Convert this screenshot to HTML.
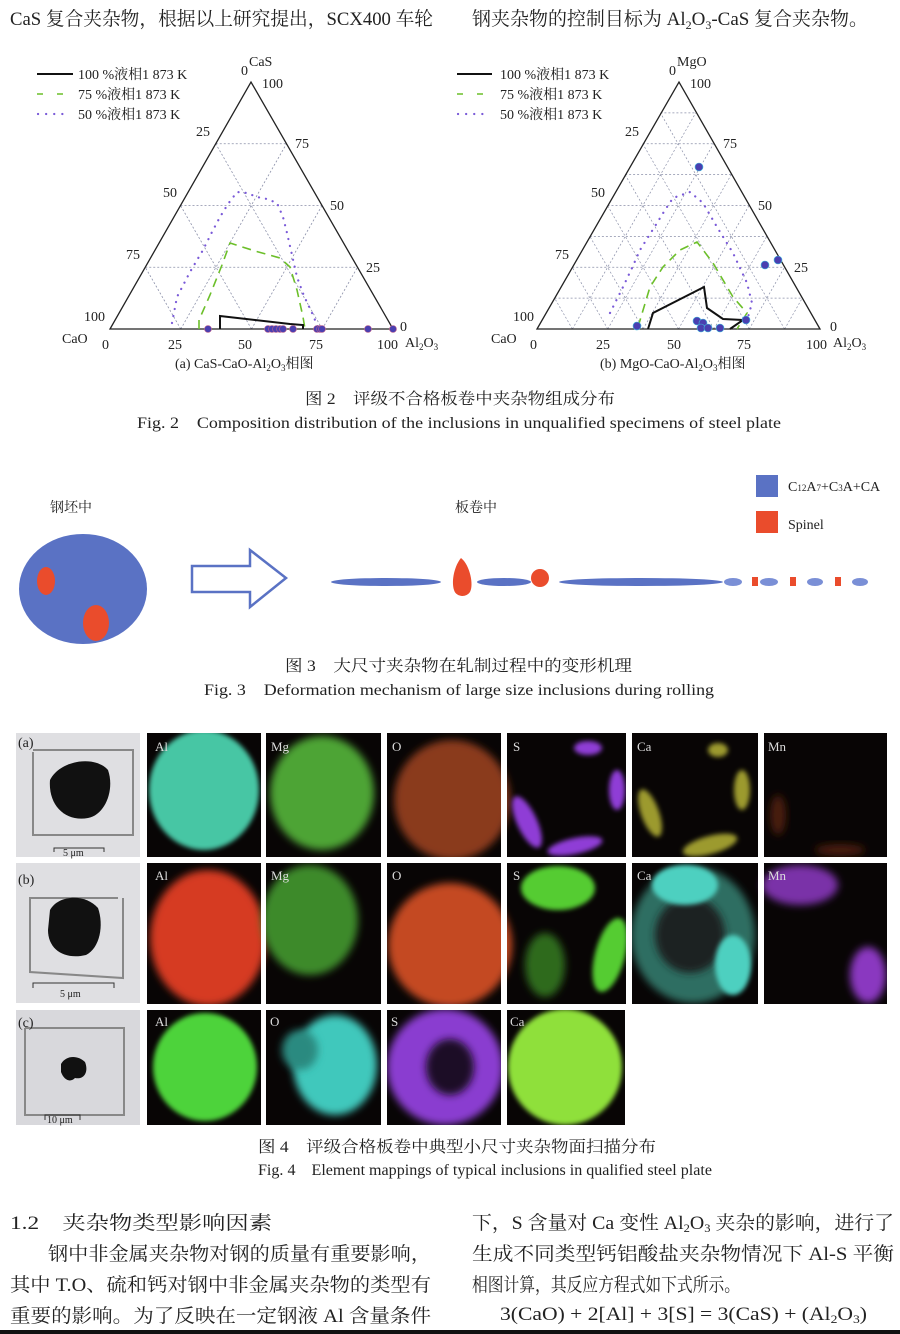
<!DOCTYPE html>
<html><head><meta charset="utf-8"><style>
html,body{margin:0;padding:0;background:#fff;}
svg{display:block;}
text{font-family:"Liberation Serif","Noto Serif CJK SC",serif;fill:#222;}
.cn{font-family:"Liberation Serif","Noto Serif CJK SC","Noto Sans CJK SC",serif;}
</style></head><body>
<svg width="900" height="1334" viewBox="0 0 900 1334" xmlns="http://www.w3.org/2000/svg">
<defs>
<filter id="bl" x="-30%" y="-30%" width="160%" height="160%"><feGaussianBlur stdDeviation="4"/></filter>
<filter id="bl2" x="-30%" y="-30%" width="160%" height="160%"><feGaussianBlur stdDeviation="2.5"/></filter>
<clipPath id="maps">
<rect x="147" y="733" width="114" height="124"/><rect x="266" y="733" width="115" height="124"/><rect x="387" y="733" width="114" height="124"/><rect x="507" y="733" width="119" height="124"/><rect x="632" y="733" width="126" height="124"/><rect x="764" y="733" width="123" height="124"/>
<rect x="147" y="863" width="114" height="141"/><rect x="266" y="863" width="115" height="141"/><rect x="387" y="863" width="114" height="141"/><rect x="507" y="863" width="119" height="141"/><rect x="632" y="863" width="126" height="141"/><rect x="764" y="863" width="123" height="141"/>
<rect x="147" y="1010" width="114" height="115"/><rect x="266" y="1010" width="115" height="115"/><rect x="387" y="1010" width="114" height="115"/><rect x="507" y="1010" width="118" height="115"/>
</clipPath>
</defs>
<rect width="900" height="1334" fill="#fff"/>

<text x="10" y="25" font-size="19" textLength="423" lengthAdjust="spacingAndGlyphs" class="cn">CaS 复合夹杂物，根据以上研究提出，SCX400 车轮</text>
<text x="472" y="25" font-size="19" textLength="396" lengthAdjust="spacingAndGlyphs" class="cn">钢夹杂物的控制目标为 Al<tspan font-size="12" dy="4">2</tspan><tspan dy="-4">O</tspan><tspan font-size="12" dy="4">3</tspan><tspan dy="-4">-CaS 复合夹杂物。</tspan></text>

<!-- ===== Triangle A ===== -->
<g stroke="#8a8fa8" stroke-width="0.8" stroke-dasharray="2,2" fill="none">
<line x1="145.25" y1="267.25" x2="357.5" y2="267.25"/>
<line x1="180.5" y1="205.5" x2="322" y2="205.5"/>
<line x1="215.75" y1="143.75" x2="286.5" y2="143.75"/>
<line x1="180.75" y1="329" x2="286.5" y2="143.75"/>
<line x1="251.5" y1="329" x2="322" y2="205.5"/>
<line x1="322.25" y1="329" x2="357.5" y2="267.25"/>
<line x1="180.75" y1="329" x2="145.25" y2="267.25"/>
<line x1="251.5" y1="329" x2="180.5" y2="205.5"/>
<line x1="322.25" y1="329" x2="215.75" y2="143.75"/>
</g>
<polygon points="110,329 393,329 251,82" fill="none" stroke="#222" stroke-width="1.3"/>
<polyline points="172,323 177,297 190,272 203,250 212,232 220,217 228,204 237,192 247,193 257,197 267,199 277,203 283,217 287,233 292,255 297,277 304,296 312,313 318,327" fill="none" stroke="#7a5ad8" stroke-width="2.2" stroke-dasharray="0.1,7" stroke-linecap="round"/>
<polyline points="199,329 199,320 210,295 222,265 230,243 255,251 280,258 290,267 297,290 303,317 305,329" fill="none" stroke="#6cbf2a" stroke-width="1.6" stroke-dasharray="9,6"/>
<polyline points="220,329 220,316 290,324 303,325 303,329" fill="none" stroke="#111" stroke-width="2"/>
<g fill="#4a3fb0" stroke="#c0608a" stroke-width="0.6">
<circle cx="208" cy="329" r="3.5"/><circle cx="268" cy="329" r="3.5"/><circle cx="272" cy="329" r="3.5"/><circle cx="276" cy="329" r="3.5"/><circle cx="280" cy="329" r="3.5"/><circle cx="283" cy="329" r="3.5"/><circle cx="293" cy="329" r="3.5"/><circle cx="317" cy="329" r="3.5"/><circle cx="320" cy="329" r="3.5"/><circle cx="322" cy="329" r="3.5"/><circle cx="368" cy="329" r="3.5"/><circle cx="393" cy="329" r="3.5"/>
</g>
<g font-size="14">
<text x="241" y="75">0</text><text x="249" y="66">CaS</text><text x="262" y="88">100</text>
<text x="196" y="136">25</text><text x="163" y="197">50</text><text x="126" y="259">75</text><text x="84" y="321">100</text>
<text x="295" y="148">75</text><text x="330" y="210">50</text><text x="366" y="272">25</text><text x="400" y="331">0</text>
<text x="62" y="343">CaO</text><text x="102" y="349">0</text><text x="168" y="349">25</text><text x="238" y="349">50</text><text x="309" y="349">75</text><text x="377" y="349">100</text>
<text x="405" y="347">Al<tspan font-size="9" dy="3">2</tspan><tspan dy="-3">O</tspan><tspan font-size="9" dy="3">3</tspan></text>
</g>
<g font-size="14" class="cn">
<line x1="37" y1="74" x2="73" y2="74" stroke="#111" stroke-width="2"/>
<text x="78" y="79">100 %液相1 873 K</text>
<line x1="37" y1="94" x2="73" y2="94" stroke="#6cbf2a" stroke-width="1.6" stroke-dasharray="6,14"/>
<text x="78" y="99">75 %液相1 873 K</text>
<line x1="38" y1="114" x2="70" y2="114" stroke="#7a5ad8" stroke-width="2.2" stroke-dasharray="0.1,8" stroke-linecap="round"/>
<text x="78" y="119">50 %液相1 873 K</text>
<text x="175" y="368">(a) CaS-CaO-Al<tspan font-size="9" dy="3">2</tspan><tspan dy="-3">O</tspan><tspan font-size="9" dy="3">3</tspan><tspan dy="-3">相图</tspan></text>
</g>

<!-- ===== Triangle B ===== -->
<g transform="translate(427,0)" stroke="#8a8fa8" stroke-width="0.7" stroke-dasharray="2,2" fill="none">
<line x1="127.6" y1="298.1" x2="375.3" y2="298.1"/><line x1="145.25" y1="267.25" x2="357.5" y2="267.25"/><line x1="162.9" y1="236.4" x2="339.75" y2="236.4"/><line x1="180.5" y1="205.5" x2="322" y2="205.5"/><line x1="198.1" y1="174.6" x2="304.25" y2="174.6"/><line x1="215.75" y1="143.75" x2="286.5" y2="143.75"/><line x1="233.4" y1="112.9" x2="268.75" y2="112.9"/>
<line x1="145.4" y1="329" x2="268.75" y2="112.9"/><line x1="180.75" y1="329" x2="286.5" y2="143.75"/><line x1="216.1" y1="329" x2="304.25" y2="174.6"/><line x1="251.5" y1="329" x2="322" y2="205.5"/><line x1="286.9" y1="329" x2="339.75" y2="236.4"/><line x1="322.25" y1="329" x2="357.5" y2="267.25"/><line x1="357.6" y1="329" x2="375.3" y2="298.1"/>
<line x1="145.4" y1="329" x2="127.6" y2="298.1"/><line x1="180.75" y1="329" x2="145.25" y2="267.25"/><line x1="216.1" y1="329" x2="162.9" y2="236.4"/><line x1="251.5" y1="329" x2="180.5" y2="205.5"/><line x1="286.9" y1="329" x2="198.1" y2="174.6"/><line x1="322.25" y1="329" x2="215.75" y2="143.75"/><line x1="357.6" y1="329" x2="233.4" y2="112.9"/>
</g>
<polygon points="537,329 820,329 679,82" fill="none" stroke="#222" stroke-width="1.3"/>
<polyline points="610,313 623,287 632,268 640,250 657,223 665,210 673,198 690,192 703,203 717,227 733,253 747,283 752,303 748,317" fill="none" stroke="#7a5ad8" stroke-width="2.2" stroke-dasharray="0.1,7" stroke-linecap="round"/>
<polyline points="638,327 650,287 663,267 680,250 697,242 713,263 733,297 747,313 737,329" fill="none" stroke="#6cbf2a" stroke-width="1.6" stroke-dasharray="9,6"/>
<polyline points="648,329 653,313 704,287 707,308 723,319 743,320 730,329" fill="none" stroke="#111" stroke-width="2"/>
<g fill="#4a3fb0" stroke="#3fc0e0" stroke-width="0.6">
<circle cx="699" cy="167" r="4"/><circle cx="765" cy="265" r="4"/><circle cx="778" cy="260" r="4"/><circle cx="637" cy="326" r="4"/><circle cx="697" cy="321" r="4"/><circle cx="703" cy="323" r="4"/><circle cx="701" cy="328" r="4"/><circle cx="708" cy="328" r="4"/><circle cx="720" cy="328" r="4"/><circle cx="746" cy="320" r="4"/>
</g>
<g font-size="14">
<text x="669" y="75">0</text><text x="677" y="66">MgO</text><text x="690" y="88">100</text>
<text x="625" y="136">25</text><text x="591" y="197">50</text><text x="555" y="259">75</text><text x="513" y="321">100</text>
<text x="723" y="148">75</text><text x="758" y="210">50</text><text x="794" y="272">25</text><text x="830" y="331">0</text>
<text x="491" y="343">CaO</text><text x="530" y="349">0</text><text x="596" y="349">25</text><text x="667" y="349">50</text><text x="737" y="349">75</text><text x="806" y="349">100</text>
<text x="833" y="347">Al<tspan font-size="9" dy="3">2</tspan><tspan dy="-3">O</tspan><tspan font-size="9" dy="3">3</tspan></text>
</g>
<g font-size="14" class="cn">
<line x1="457" y1="74" x2="492" y2="74" stroke="#111" stroke-width="2"/>
<text x="500" y="79">100 %液相1 873 K</text>
<line x1="457" y1="94" x2="492" y2="94" stroke="#6cbf2a" stroke-width="1.6" stroke-dasharray="6,14"/>
<text x="500" y="99">75 %液相1 873 K</text>
<line x1="458" y1="114" x2="490" y2="114" stroke="#7a5ad8" stroke-width="2.2" stroke-dasharray="0.1,8" stroke-linecap="round"/>
<text x="500" y="119">50 %液相1 873 K</text>
<text x="600" y="368">(b) MgO-CaO-Al<tspan font-size="9" dy="3">2</tspan><tspan dy="-3">O</tspan><tspan font-size="9" dy="3">3</tspan><tspan dy="-3">相图</tspan></text>
</g>

<text x="305" y="404" font-size="16" textLength="310" lengthAdjust="spacingAndGlyphs" class="cn">图 2　评级不合格板卷中夹杂物组成分布</text>
<text x="137" y="428" font-size="16" textLength="644" lengthAdjust="spacingAndGlyphs">Fig. 2　Composition distribution of the inclusions in unqualified specimens of steel plate</text>

<!-- Fig3 -->
<text x="50" y="512" font-size="14" class="cn">钢坯中</text>
<text x="455" y="512" font-size="14" class="cn">板卷中</text>
<rect x="756" y="475" width="22" height="22" fill="#5a72c4"/>
<text x="788" y="491" font-size="14">C<tspan font-size="9">12</tspan>A<tspan font-size="9">7</tspan>+C<tspan font-size="9">3</tspan>A+CA</text>
<rect x="756" y="511" width="22" height="22" fill="#ea4c2c"/>
<text x="788" y="529" font-size="14">Spinel</text>
<ellipse cx="83" cy="589" rx="64" ry="55" fill="#5a72c4"/>
<ellipse cx="46" cy="581" rx="9" ry="14" fill="#ea4c2c"/>
<ellipse cx="96" cy="623" rx="13" ry="18" fill="#ea4c2c"/>
<polygon points="192,566 250,566 250,550 286,578 250,607 250,592 192,592" fill="#fff" stroke="#5a72c4" stroke-width="2.5"/>
<ellipse cx="386" cy="582" rx="55" ry="4" fill="#5a72c4"/>
<path d="M461,558 C470,565 474,585 470,592 C466,598 456,597 454,590 C451,580 455,565 461,558Z" fill="#ea4c2c"/>
<ellipse cx="504" cy="582" rx="27" ry="4" fill="#5a72c4"/>
<circle cx="540" cy="578" r="9" fill="#ea4c2c"/>
<ellipse cx="641" cy="582" rx="82" ry="4" fill="#5a72c4"/>
<ellipse cx="733" cy="582" rx="9" ry="4" fill="#7a8fd6"/>
<rect x="752" y="577" width="6" height="9" fill="#ea4c2c"/>
<ellipse cx="769" cy="582" rx="9" ry="4" fill="#7a8fd6"/>
<rect x="790" y="577" width="6" height="9" fill="#ea4c2c"/>
<ellipse cx="815" cy="582" rx="8" ry="4" fill="#7a8fd6"/>
<rect x="835" y="577" width="6" height="9" fill="#ea4c2c"/>
<ellipse cx="860" cy="582" rx="8" ry="4" fill="#7a8fd6"/>
<text x="285" y="671" font-size="16" textLength="347" lengthAdjust="spacingAndGlyphs" class="cn">图 3　大尺寸夹杂物在轧制过程中的变形机理</text>
<text x="204" y="695" font-size="16" textLength="510" lengthAdjust="spacingAndGlyphs">Fig. 3　Deformation mechanism of large size inclusions during rolling</text>

<!-- Fig4 SEM panels -->
<g>
<rect x="16" y="733" width="124" height="124" fill="#dfdfe2"/>
<polyline points="33,750 133,750 133,835 33,835 33,752" fill="none" stroke="#888" stroke-width="2"/>
<path d="M50,780 C60,760 95,755 108,770 C115,790 105,815 88,818 C65,822 48,805 50,780Z" fill="#111"/>
<path d="M54,852 L54,848 L104,848 L104,852" fill="none" stroke="#333"/>
<text x="63" y="856" font-size="10">5 μm</text>
<text x="18" y="747" font-size="14">(a)</text>

<rect x="16" y="863" width="124" height="140" fill="#dfdfe2"/>
<polyline points="118,898 30,898 30,972 123,978 123,898" fill="none" stroke="#888" stroke-width="2"/>
<path d="M50,910 C58,895 85,893 98,908 C104,925 100,948 86,955 C65,960 48,950 48,930Z" fill="#111"/>
<path d="M33,988 L33,983 L114,983 L114,988" fill="none" stroke="#333"/>
<text x="60" y="997" font-size="10">5 μm</text>
<text x="18" y="884" font-size="14">(b)</text>

<rect x="16" y="1010" width="124" height="115" fill="#d8d8dc"/>
<polyline points="25,1028 124,1028 124,1115 25,1115 25,1028" fill="none" stroke="#888" stroke-width="2"/>
<path d="M61,1064 C66,1055 78,1055 85,1062 C89,1072 84,1080 75,1078 C70,1083 64,1080 61,1072Z" fill="#111"/>
<path d="M45,1120 L45,1115 L80,1115 L80,1120" fill="none" stroke="#333"/>
<text x="47" y="1123" font-size="10">10 μm</text>
<text x="18" y="1027" font-size="14">(c)</text>
</g>

<g clip-path="url(#maps)">
<!-- row a -->
<rect x="147" y="733" width="740" height="124" fill="#080505"/>
<ellipse cx="204" cy="790" rx="55" ry="60" fill="#46c6a4" filter="url(#bl2)"/>
<ellipse cx="322" cy="793" rx="52" ry="57" fill="#4ea436" filter="url(#bl)"/>
<ellipse cx="452" cy="800" rx="58" ry="60" fill="#8a3a1e" filter="url(#bl)"/>
<ellipse cx="527" cy="822" rx="10" ry="28" transform="rotate(-25 527 822)" fill="#8f3ed6" filter="url(#bl2)"/>
<ellipse cx="575" cy="846" rx="28" ry="8" transform="rotate(-12 575 846)" fill="#8f3ed6" filter="url(#bl2)"/>
<ellipse cx="617" cy="790" rx="8" ry="20" fill="#8f3ed6" filter="url(#bl2)"/>
<ellipse cx="588" cy="748" rx="14" ry="7" fill="#8f3ed6" filter="url(#bl2)"/>
<ellipse cx="650" cy="813" rx="9" ry="25" transform="rotate(-20 650 813)" fill="#9c9a2e" filter="url(#bl2)"/>
<ellipse cx="710" cy="845" rx="28" ry="9" transform="rotate(-15 710 845)" fill="#9c9a2e" filter="url(#bl2)"/>
<ellipse cx="742" cy="790" rx="8" ry="20" fill="#9c9a2e" filter="url(#bl2)"/>
<ellipse cx="718" cy="750" rx="10" ry="7" fill="#9c9a2e" filter="url(#bl2)"/>
<ellipse cx="778" cy="815" rx="8" ry="20" fill="#4a1e0c" filter="url(#bl)"/>
<ellipse cx="840" cy="850" rx="25" ry="6" fill="#4a1e0c" filter="url(#bl)"/>
<!-- row b -->
<rect x="147" y="863" width="740" height="141" fill="#080505"/>
<ellipse cx="208" cy="938" rx="58" ry="68" fill="#d63a22" filter="url(#bl)"/>
<ellipse cx="310" cy="920" rx="48" ry="55" fill="#3e8a2a" filter="url(#bl)"/>
<ellipse cx="450" cy="945" rx="62" ry="62" fill="#c44a24" filter="url(#bl)"/>
<ellipse cx="558" cy="888" rx="37" ry="22" fill="#55cc33" filter="url(#bl2)"/>
<ellipse cx="610" cy="955" rx="15" ry="38" transform="rotate(15 610 955)" fill="#55cc33" filter="url(#bl2)"/>
<ellipse cx="545" cy="965" rx="20" ry="32" fill="#2e6a1e" filter="url(#bl)"/>
<ellipse cx="693" cy="935" rx="62" ry="68" fill="#2d6e62" filter="url(#bl)"/>
<ellipse cx="690" cy="935" rx="35" ry="38" fill="#1a2420" filter="url(#bl)"/>
<ellipse cx="685" cy="885" rx="33" ry="20" fill="#4ed0c0" filter="url(#bl2)"/>
<ellipse cx="733" cy="965" rx="18" ry="30" fill="#4ed0c0" filter="url(#bl2)"/>
<ellipse cx="800" cy="885" rx="38" ry="20" fill="#7a30a8" filter="url(#bl)"/>
<ellipse cx="868" cy="975" rx="18" ry="28" fill="#8a38c0" filter="url(#bl)"/>
<!-- row c -->
<rect x="147" y="1010" width="480" height="115" fill="#080505"/>
<ellipse cx="205" cy="1067" rx="52" ry="54" fill="#4ed33a" filter="url(#bl2)"/>
<ellipse cx="335" cy="1065" rx="42" ry="50" fill="#40c8bc" filter="url(#bl)"/>
<ellipse cx="300" cy="1050" rx="18" ry="20" fill="#2a8a80" filter="url(#bl)"/>
<ellipse cx="445" cy="1067" rx="58" ry="58" fill="#8a3ed0" filter="url(#bl)"/>
<ellipse cx="450" cy="1067" rx="24" ry="28" fill="#1e0f28" filter="url(#bl)"/>
<ellipse cx="565" cy="1067" rx="57" ry="58" fill="#8fe03a" filter="url(#bl2)"/>
</g>
<g font-size="13">
<text x="155" y="751" style="fill:#ddd">Al</text><text x="271" y="751" style="fill:#ddd">Mg</text><text x="392" y="751" style="fill:#ddd">O</text><text x="513" y="751" style="fill:#ddd">S</text><text x="637" y="751" style="fill:#ddd">Ca</text><text x="768" y="751" style="fill:#ddd">Mn</text>
<text x="155" y="880" style="fill:#ddd">Al</text><text x="271" y="880" style="fill:#ddd">Mg</text><text x="392" y="880" style="fill:#ddd">O</text><text x="513" y="880" style="fill:#ddd">S</text><text x="637" y="880" style="fill:#ddd">Ca</text><text x="768" y="880" style="fill:#ddd">Mn</text>
<text x="155" y="1026" style="fill:#ddd">Al</text><text x="270" y="1026" style="fill:#ddd">O</text><text x="391" y="1026" style="fill:#ddd">S</text><text x="510" y="1026" style="fill:#ddd">Ca</text>
</g>
<text x="258" y="1152" font-size="16" textLength="398" lengthAdjust="spacingAndGlyphs" class="cn">图 4　评级合格板卷中典型小尺寸夹杂物面扫描分布</text>
<text x="258" y="1175" font-size="16" textLength="454" lengthAdjust="spacingAndGlyphs">Fig. 4　Element mappings of typical inclusions in qualified steel plate</text>

<!-- body text -->
<g font-size="19" class="cn">
<text x="10" y="1229" textLength="262" lengthAdjust="spacingAndGlyphs">1.2　夹杂物类型影响因素</text>
<text x="48" y="1260" textLength="383" lengthAdjust="spacingAndGlyphs">钢中非金属夹杂物对钢的质量有重要影响，</text>
<text x="10" y="1291" textLength="421" lengthAdjust="spacingAndGlyphs">其中 T.O、硫和钙对钢中非金属夹杂物的类型有</text>
<text x="10" y="1322" textLength="421" lengthAdjust="spacingAndGlyphs">重要的影响。为了反映在一定钢液 Al 含量条件</text>
<text x="472" y="1229" textLength="422" lengthAdjust="spacingAndGlyphs">下，S 含量对 Ca 变性 Al<tspan font-size="12" dy="3">2</tspan><tspan dy="-3">O</tspan><tspan font-size="12" dy="3">3</tspan><tspan dy="-3"> 夹杂的影响，进行了</tspan></text>
<text x="472" y="1260" textLength="422" lengthAdjust="spacingAndGlyphs">生成不同类型钙铝酸盐夹杂物情况下 Al-S 平衡</text>
<text x="472" y="1291" textLength="268" lengthAdjust="spacingAndGlyphs">相图计算，其反应方程式如下式所示。</text>
<text x="500" y="1320" textLength="367" lengthAdjust="spacingAndGlyphs">3(CaO) + 2[Al] + 3[S] = 3(CaS) + (Al<tspan font-size="12" dy="3">2</tspan><tspan dy="-3">O</tspan><tspan font-size="12" dy="3">3</tspan><tspan dy="-3">)</tspan></text>
</g>
<rect x="0" y="1330" width="900" height="4" fill="#111"/>
</svg>
</body></html>
